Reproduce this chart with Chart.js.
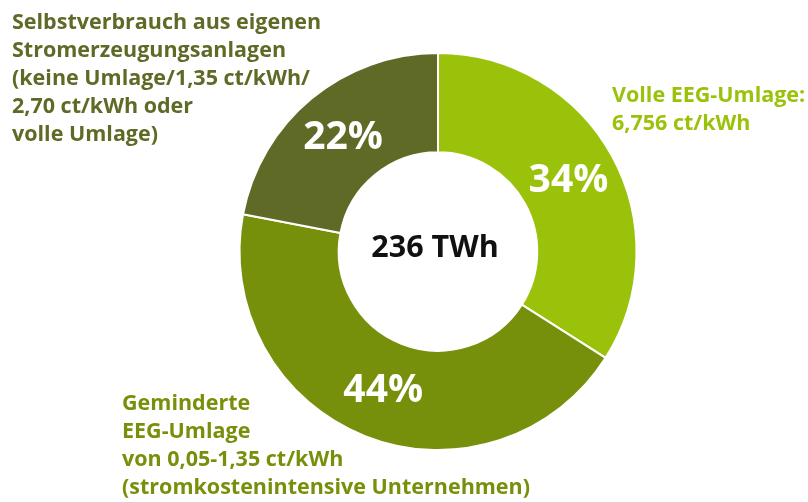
<!DOCTYPE html>
<html>
<head>
<meta charset="utf-8">
<script src="https://cdn.jsdelivr.net/npm/chart.js@4/dist/chart.umd.min.js"></script>
<style>
html,body{margin:0;padding:0;background:#fff;}
canvas{display:block;}
</style>
</head>
<body>
<canvas id="c" width="808" height="502"></canvas>
<script>
const categories = ["Volle EEG-Umlage", "Geminderte EEG-Umlage", "Selbstverbrauch"];
const shares = [34, 44, 22];
const percentLabels = ["34%", "44%", "22%"];
const centerLabel = "236 TWh";
const sliceColors = ["#9bc20a", "#77900b", "#5f6a26"];
const labelLines = [
  ["Volle EEG-Umlage:", "6,756 ct/kWh"],
  ["Geminderte", "EEG-Umlage", "von 0,05-1,35 ct/kWh", "(stromkostenintensive Unternehmen)"],
  ["Selbstverbrauch aus eigenen", "Stromerzeugungsanlagen", "(keine Umlage/1,35 ct/kWh/", "2,70 ct/kWh oder", "volle Umlage)"]
];
const labelAnchors = [[612, 96], [122, 404], [12, 23]];

const FONT = "'Open Sans', sans-serif";

const labelsPlugin = {
  id: 'labelsPlugin',
  afterDatasetsDraw(chart) {
    const ctx = chart.ctx;
    const meta = chart.getDatasetMeta(0);
    ctx.save();
    ctx.textAlign = 'center';
    ctx.textBaseline = 'middle';
    ctx.fillStyle = '#ffffff';
    ctx.font = "bold 39px " + FONT;
    meta.data.forEach((arc, i) => {
      const p = arc.tooltipPosition();
      ctx.fillText(percentLabels[i], p.x, p.y + 1);
    });
    const a0 = meta.data[0];
    ctx.fillStyle = '#111111';
    ctx.font = "bold 30.5px " + FONT;
    ctx.fillText(centerLabel, a0.x - 3, a0.y - 3);

    ctx.textAlign = 'left';
    ctx.font = "bold 21.5px " + FONT;
    labelLines.forEach((lines, i) => {
      ctx.fillStyle = sliceColors[i];
      lines.forEach((t, j) => {
        ctx.fillText(t, labelAnchors[i][0], labelAnchors[i][1] + j * 28);
      });
    });
    ctx.restore();
  }
};

new Chart(document.getElementById('c'), {
  type: 'doughnut',
  data: {
    labels: categories,
    datasets: [{
      data: shares,
      backgroundColor: sliceColors,
      borderColor: '#ffffff',
      borderWidth: 2,
      hoverOffset: 0
    }]
  },
  options: {
    responsive: false,
    animation: false,
    cutout: '50%',
    layout: { padding: { left: 68, right: 0, top: 52, bottom: 51 } },
    plugins: { legend: { display: false }, tooltip: { enabled: false } }
  },
  plugins: [labelsPlugin]
});
</script>
</body>
</html>
